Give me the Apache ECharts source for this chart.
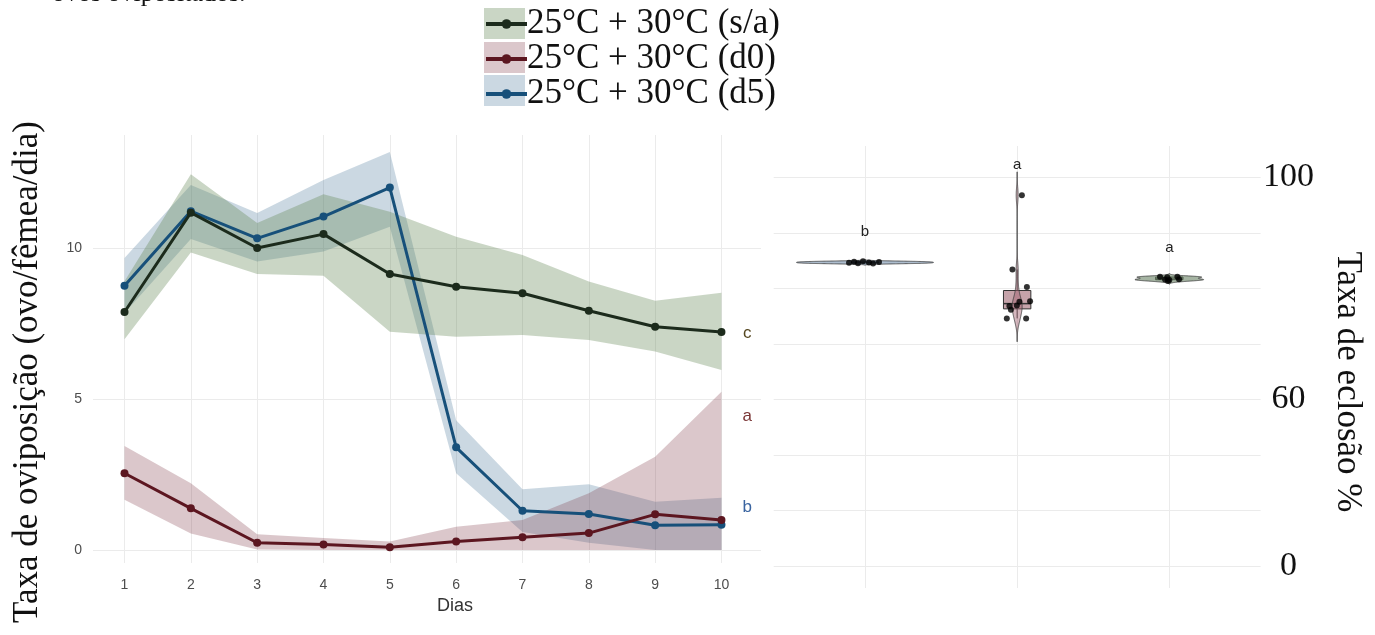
<!DOCTYPE html>
<html>
<head>
<meta charset="utf-8">
<script src="https://cdn.jsdelivr.net/npm/echarts@6.0.0/dist/echarts.min.js"></script>
<style>
html,body{margin:0;padding:0;background:#ffffff;}
#chart{width:1375px;height:635px;}
</style>
</head>
<body>
<div id="chart"></div>
<script>
// ---------------- data: left panel (oviposition rate) ----------------
const days = [1, 2, 3, 4, 5, 6, 7, 8, 9, 10];
const dayTickLabels = ['1', '2', '3', '4', '5', '6', '7', '8', '9', '10'];
const seriesNames = ['25°C + 30°C (s/a)', '25°C + 30°C (d0)', '25°C + 30°C (d5)'];

const saMean = [7.88, 11.17, 10.00, 10.46, 9.14, 8.72, 8.50, 7.92, 7.39, 7.22];
const saLow  = [6.98, 9.85, 9.14, 9.08, 7.23, 7.06, 7.12, 6.95, 6.57, 5.96];
const saHigh = [8.90, 12.44, 10.83, 11.78, 11.20, 10.37, 9.77, 8.89, 8.25, 8.52];

const d0Mean = [2.54, 1.38, 0.24, 0.18, 0.09, 0.28, 0.42, 0.56, 1.18, 0.99];
const d0Low  = [1.66, 0.55, 0.02, 0.00, 0.00, 0.00, 0.00, 0.00, 0.00, 0.00];
const d0High = [3.44, 2.21, 0.52, 0.40, 0.28, 0.77, 0.99, 1.88, 3.09, 5.24];

const d5Mean = [8.75, 11.22, 10.32, 11.04, 12.00, 3.40, 1.30, 1.19, 0.82, 0.84];
const d5Low  = [7.85, 10.30, 9.55, 9.88, 10.70, 2.54, 0.60, 0.24, 0.00, 0.00];
const d5High = [9.67, 12.09, 11.16, 12.25, 13.18, 4.30, 2.01, 2.18, 1.60, 1.73];

const leftTickValues = [0, 5, 10];
const leftLetters = ['c', 'a', 'b'];
const leftLetterX = 10.39;
const leftLetterY = [7.18, 4.44, 1.42];

// ---------------- data: right panel (hatch rate %) ----------------
const rightGroups = [1, 2, 3];
const hatchG1  = [78.0, 78.3, 77.9, 78.4, 78.1, 77.8, 78.2];
const hatchG1X = [0.895, 0.928, 0.954, 0.987, 1.026, 1.053, 1.092];
const hatchG2  = [95.4, 76.3, 71.8, 68.1, 68.0, 67.0, 66.9, 65.9, 63.7, 63.7];
const hatchG2X = [2.031, 1.969, 2.064, 2.085, 2.015, 1.998, 1.949, 1.959, 1.932, 2.059];
const hatchG3  = [74.4, 74.3, 73.6, 73.8, 74.4, 73.7, 73.3];
const hatchG3X = [2.939, 2.987, 3.000, 3.064, 3.053, 2.972, 2.991];
const rightTickLabels = ['0', '', '', '60', '', '', '', '100'];
const rightLetters = ['b', 'a', 'a'];
const rightLetterY = [85.9, 103.2, 81.8];

// ---------------- styles ----------------
const lineColors = ['#1c2b1c', '#5c1620', '#17507a'];
const ribbonFills = ['rgba(95,130,80,0.33)', 'rgba(125,55,70,0.28)', 'rgba(70,115,150,0.28)'];
const leftLetterColors = ['#54461f', '#7a3535', '#3a64a0'];
const violinFills = ['rgba(105,135,165,0.55)', 'rgba(160,95,110,0.45)', 'rgba(105,130,100,0.6)'];
const boxFills = ['#a7b6c4', '#c6a3aa', '#9aa996'];
const gridColor = '#ebebeb';

// ---------------- helpers (statistics as ggplot does) ----------------
function quantile7(sorted, p) {
  const h = (sorted.length - 1) * p;
  const lo = Math.floor(h), hi = Math.ceil(h);
  return sorted[lo] + (h - lo) * (sorted[hi] - sorted[lo]);
}
function bwNrd0(x) {
  const n = x.length;
  const m = x.reduce((a, b) => a + b, 0) / n;
  const sd = Math.sqrt(x.reduce((a, b) => a + (b - m) * (b - m), 0) / (n - 1));
  const s = [...x].sort((a, b) => a - b);
  const iqr = quantile7(s, 0.75) - quantile7(s, 0.25);
  let lo = Math.min(sd, iqr / 1.34);
  if (!(lo > 0)) lo = sd || 1;
  return 0.9 * lo * Math.pow(n, -0.2);
}
function kde(x) {
  const bw = bwNrd0(x);
  const s = [...x].sort((a, b) => a - b);
  const from = s[0] - 3 * bw, to = s[s.length - 1] + 3 * bw;
  const N = 256, ys = [], ds = [];
  for (let k = 0; k < N; k++) {
    const y = from + (to - from) * k / (N - 1);
    let d = 0;
    for (const v of x) { const z = (y - v) / bw; d += Math.exp(-0.5 * z * z); }
    d /= x.length * bw * Math.sqrt(2 * Math.PI);
    ys.push(y); ds.push(d);
  }
  return { ys, ds };
}
function boxStats(x) {
  const s = [...x].sort((a, b) => a - b);
  const q1 = quantile7(s, 0.25), med = quantile7(s, 0.5), q3 = quantile7(s, 0.75);
  const iqr = q3 - q1;
  const lo = s.find(v => v >= q1 - 1.5 * iqr);
  const hi = [...s].reverse().find(v => v <= q3 + 1.5 * iqr);
  return { q1, med, q3, lo, hi };
}

const hatchGroups = [hatchG1, hatchG2, hatchG3];
const hatchGroupsX = [hatchG1X, hatchG2X, hatchG3X];
const densities = hatchGroups.map(kde);
const maxDensity = Math.max(...densities.map(d => Math.max(...d.ds)));
const stats = hatchGroups.map(boxStats);

// ---------------- series builders ----------------
function ribbon(idx, lo, hi) {
  return {
    type: 'custom', name: 'ribbon' + idx, xAxisIndex: 0, yAxisIndex: 0, z: 1, silent: true,
    data: days.map((d, i) => [d, lo[i], hi[i]]),
    encode: { x: 0, y: [1, 2] },
    renderItem: function (params, api) {
      if (params.dataIndex !== 0) return null;
      const pts = [];
      for (let i = 0; i < days.length; i++) pts.push(api.coord([days[i], hi[i]]));
      for (let i = days.length - 1; i >= 0; i--) pts.push(api.coord([days[i], lo[i]]));
      return { type: 'polygon', shape: { points: pts }, style: { fill: ribbonFills[idx] } };
    }
  };
}
function meanLine(idx, mean) {
  return {
    type: 'line', name: seriesNames[idx], xAxisIndex: 0, yAxisIndex: 0, z: 3,
    data: days.map((d, i) => [d, mean[i]]),
    clip: false, symbol: 'circle', symbolSize: 8, showSymbol: true,
    lineStyle: { width: 3, color: lineColors[idx] },
    itemStyle: { color: lineColors[idx] },
    silent: true
  };
}

const series = [
  ribbon(2, d5Low, d5High),
  ribbon(1, d0Low, d0High),
  ribbon(0, saLow, saHigh),
  meanLine(2, d5Mean),
  meanLine(1, d0Mean),
  meanLine(0, saMean),
  {
    type: 'custom', name: 'letters-left', xAxisIndex: 0, yAxisIndex: 0, z: 4, silent: true,
    data: leftLetterY.map(y => [leftLetterX, y]),
    renderItem: function (params, api) {
      const p = api.coord([api.value(0), api.value(1)]);
      return { type: 'text', x: p[0], y: p[1],
        style: { text: leftLetters[params.dataIndex], fill: leftLetterColors[params.dataIndex],
          font: '17px "Liberation Sans"', align: 'center', verticalAlign: 'middle' } };
    }
  },
  {
    type: 'custom', name: 'boxes', xAxisIndex: 2, yAxisIndex: 3, z: 2, silent: true,
    data: rightGroups.map((g, i) => [g, stats[i].med]),
    renderItem: function (params, api) {
      const i = params.dataIndex, st = stats[i], cx = rightGroups[i], hw = 0.09;
      const tl = api.coord([cx - hw, st.q3]);
      const br = api.coord([cx + hw, st.q1]);
      const c = api.coord([cx, st.med]);
      const yHi = api.coord([cx, st.hi])[1], yLo = api.coord([cx, st.lo])[1];
      return { type: 'group', children: [
        { type: 'line', shape: { x1: c[0], y1: yHi, x2: c[0], y2: tl[1] }, style: { stroke: '#333', lineWidth: 1 } },
        { type: 'line', shape: { x1: c[0], y1: br[1], x2: c[0], y2: yLo }, style: { stroke: '#333', lineWidth: 1 } },
        { type: 'rect', shape: { x: tl[0], y: tl[1], width: br[0] - tl[0], height: br[1] - tl[1] },
          style: { fill: boxFills[i], stroke: '#333', lineWidth: 1 } },
        { type: 'line', shape: { x1: tl[0], y1: c[1], x2: br[0], y2: c[1] }, style: { stroke: '#333', lineWidth: 1.5 } }
      ] };
    }
  },
  {
    type: 'custom', name: 'violins', xAxisIndex: 2, yAxisIndex: 3, z: 3, silent: true,
    data: rightGroups.map((g, i) => [g, stats[i].med]),
    renderItem: function (params, api) {
      const i = params.dataIndex, d = densities[i], cx = rightGroups[i];
      const pts = [];
      for (let k = 0; k < d.ys.length; k++) pts.push(api.coord([cx + 0.45 * d.ds[k] / maxDensity, d.ys[k]]));
      for (let k = d.ys.length - 1; k >= 0; k--) pts.push(api.coord([cx - 0.45 * d.ds[k] / maxDensity, d.ys[k]]));
      return { type: 'polygon', shape: { points: pts },
        style: { fill: violinFills[i], stroke: '#3a3a3a', lineWidth: 0.8 } };
    }
  },
  {
    type: 'scatter', name: 'points', xAxisIndex: 2, yAxisIndex: 3, z: 4, clip: false, silent: true,
    symbolSize: 6, itemStyle: { color: '#000000' },
    data: hatchGroups.flatMap((vals, g) => vals.map((v, k) => [hatchGroupsX[g][k], v]))
  },
  {
    type: 'custom', name: 'letters-right', xAxisIndex: 2, yAxisIndex: 3, z: 4, silent: true,
    data: rightLetterY.map((y, i) => [rightGroups[i], y]),
    renderItem: function (params, api) {
      const p = api.coord([api.value(0), api.value(1)]);
      return { type: 'text', x: p[0], y: p[1],
        style: { text: rightLetters[params.dataIndex], fill: '#222',
          font: '15px "Liberation Sans"', align: 'center', verticalAlign: 'middle' } };
    }
  }
];

const option = {
  animation: false,
  backgroundColor: '#ffffff',
  textStyle: { fontFamily: 'Liberation Sans' },
  legend: {
    data: seriesNames,
    orient: 'vertical', left: 479, top: 1.5,
    itemWidth: 41, itemHeight: 12, itemGap: 0,
    selectedMode: false,
    lineStyle: { width: 4 },
    textStyle: { fontFamily: 'Liberation Serif', fontSize: 35, lineHeight: 33, color: '#111', padding: [0, 0, 0, -5] },
    z: 10
  },
  graphic: [
    { type: 'rect', z: 1, shape: { x: 484, y: 8, width: 41, height: 31 }, style: { fill: ribbonFills[0] } },
    { type: 'rect', z: 1, shape: { x: 484, y: 42, width: 41, height: 31 }, style: { fill: ribbonFills[1] } },
    { type: 'rect', z: 1, shape: { x: 484, y: 75, width: 41, height: 31 }, style: { fill: ribbonFills[2] } },
    { type: 'text', x: 52, y: -6, style: { text: 'ovos ovipositados.', font: '26px "Liberation Serif"', fill: '#111', align: 'left', verticalAlign: 'middle' } },
    { type: 'text', x: 28, y: 372, rotation: Math.PI / 2,
      style: { text: 'Taxa de oviposição (ovo/fêmea/dia)', font: '35px "Liberation Serif"', fill: '#111', align: 'center', verticalAlign: 'middle' } },
    { type: 'text', x: 1347, y: 382, rotation: -Math.PI / 2,
      style: { text: 'Taxa de eclosão %', font: '35px "Liberation Serif"', fill: '#111', align: 'center', verticalAlign: 'middle' } },
    { type: 'text', x: 455, y: 606,
      style: { text: 'Dias', font: '18px "Liberation Sans"', fill: '#333', align: 'center', verticalAlign: 'middle' } }
  ],
  grid: [
    { left: 93, right: 614, top: 248, bottom: 85 },
    { left: 124.5, right: 653.5, top: 135, bottom: 72 },
    { left: 773.7, right: 114.4, top: 177.3, bottom: 69 },
    { left: 865, right: 205.7, top: 146, bottom: 47 }
  ],
  xAxis: [
    { type: 'value', gridIndex: 0, min: 0.525, max: 10.596, show: false },
    { type: 'value', gridIndex: 1, min: 1, max: 10, interval: 1,
      axisLine: { show: false }, axisTick: { show: false },
      axisLabel: { margin: 15, fontSize: 14, color: '#4d4d4d', fontFamily: 'Liberation Sans',
        formatter: v => dayTickLabels[days.indexOf(v)] || '' },
      splitLine: { show: true, lineStyle: { color: gridColor, width: 1 } } },
    { type: 'value', gridIndex: 2, min: 0.4, max: 3.6, show: false },
    { type: 'value', gridIndex: 3, min: 1, max: 3, interval: 1,
      axisLine: { show: false }, axisTick: { show: false }, axisLabel: { show: false },
      splitLine: { show: true, lineStyle: { color: gridColor, width: 1 } } }
  ],
  yAxis: [
    { type: 'value', gridIndex: 0, min: 0, max: 10, interval: 5,
      axisLine: { show: false }, axisTick: { show: false },
      axisLabel: { margin: 11, fontSize: 14, color: '#4d4d4d', fontFamily: 'Liberation Sans',
        formatter: v => leftTickValues.indexOf(v) >= 0 ? String(v) : '' },
      splitLine: { show: true, lineStyle: { color: gridColor, width: 1 } } },
    { type: 'value', gridIndex: 1, min: 0, max: 1, show: false },
    { type: 'value', gridIndex: 2, position: 'right', min: 0, max: 7, interval: 1,
      axisLine: { show: false }, axisTick: { show: false },
      axisLabel: { margin: 28, align: 'center', fontSize: 34, color: '#111', fontFamily: 'Liberation Serif',
        formatter: v => rightTickLabels[v] || '' },
      splitLine: { show: true, lineStyle: { color: gridColor, width: 1 } } },
    { type: 'value', gridIndex: 2, min: 0, max: 100, show: false },
    { type: 'value', gridIndex: 3, min: 0, max: 1, show: false }
  ],
  series: series
};

const chart = echarts.init(document.getElementById('chart'), null, { renderer: 'canvas' });
chart.setOption(option);
</script>
</body>
</html>
